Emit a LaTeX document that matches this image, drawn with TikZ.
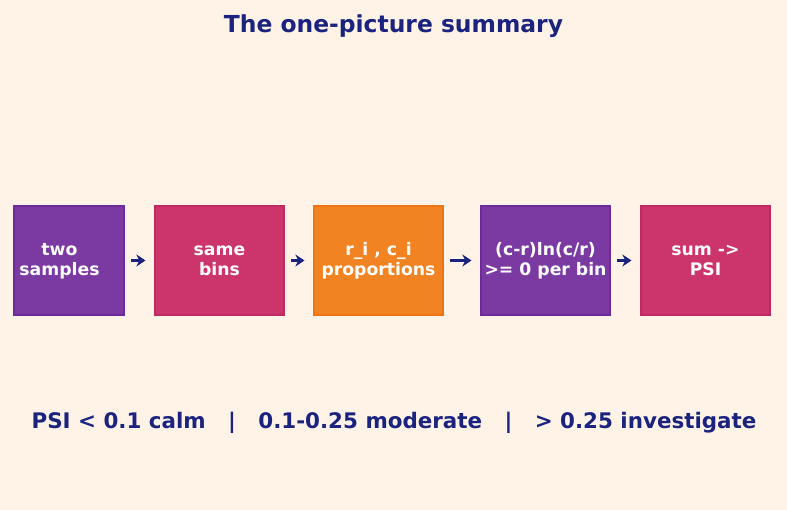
\documentclass[tikz,border=0pt]{standalone}
\usepackage{fontspec}
\setmainfont{DejaVu Sans}
\usetikzlibrary{arrows.meta,positioning}
\definecolor{cream}{HTML}{FFF3E8}
\definecolor{navy}{HTML}{1A237E}
\definecolor{plum}{HTML}{7B3AA2}
\definecolor{plumedge}{HTML}{6C2A9A}
\definecolor{rose}{HTML}{CC356C}
\definecolor{roseedge}{HTML}{BF2A62}
\definecolor{tangerine}{HTML}{F28322}
\definecolor{tangerineedge}{HTML}{EE7414}
\tikzset{
  stagebox/.style={draw,line width=1.2bp,minimum width=129bp,minimum height=109bp,
    inner sep=0pt,align=center,text=white,font=\bfseries\fontsize{17.3}{20}\selectfont},
  stagetext/.style={align=center,text=white,font=\bfseries\fontsize{17.3}{20}\selectfont},
  flow/.style={-{Stealth[length=9bp,width=12bp]},line width=3.2bp,navy,
    shorten <=6bp,shorten >=9bp}
}
\begin{document}
\begin{tikzpicture}[x=1bp,y=-1bp]
  \fill[cream] (0,0) rectangle (787,510);
  \useasboundingbox (0,0) rectangle (787,510);
  \node[font=\bfseries\fontsize{23.5}{28}\selectfont,text=navy] (title) at (393.5,26) {The one-picture summary};
  % boxes
  \node[stagebox,fill=plum,draw=plumedge,minimum width=110bp] (samples) at (69,260.5) {};
  \node[stagetext] (samplestext) at (59.5,261) {two\\samples};
  \node[stagebox,fill=rose,draw=roseedge] (bins) at (219.5,260.5) {same\\bins};
  \node[stagebox,fill=tangerine,draw=tangerineedge] (props) at (378.5,260.5) {r\_i , c\_i\\proportions};
  \node[stagebox,fill=plum,draw=plumedge] (terms) at (545.5,260.5) {(c-r)ln(c/r)\\>= 0 per bin};
  \node[stagebox,fill=rose,draw=roseedge] (psi) at (705.5,260.5) {sum ->\\PSI};
  % arrows
  \draw[flow] (samples) -- (bins);
  \draw[flow] (bins) -- (props);
  \draw[flow] (props) -- (terms);
  \draw[flow] (terms) -- (psi);
  \node[font=\bfseries\fontsize{21.5}{25}\selectfont,text=navy] (legend) at (394,423)
    {PSI < 0.1 calm \ \ | \ \ 0.1-0.25 moderate \ \ | \ \ > 0.25 investigate};
\end{tikzpicture}
\end{document}
